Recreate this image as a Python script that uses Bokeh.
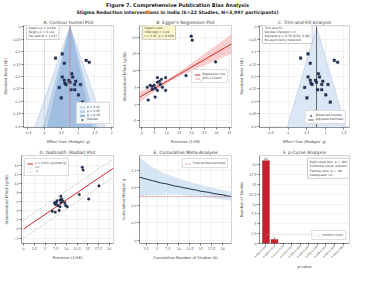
import math
from bokeh.plotting import figure
from bokeh.layouts import column, row
from bokeh.models import (Range1d, FixedTicker, Label, Legend, LegendItem, ColumnDataSource,
                          Span, FactorRange)
from bokeh.core.properties import value
from bokeh.embed import file_html
from bokeh.resources import INLINE

FONT = "DejaVu Sans"

main_title = "Figure 7. Comprehensive Publication Bias Analysis"
sub_title = "Stigma Reduction Interventions in India (k=22 Studies, N=3,997 participants)"

panel_titles = ["A. Contour Funnel Plot", "B. Egger's Regression Plot", "C. Trim-and-Fill Analysis",
                "D. Galbraith (Radial) Plot", "E. Cumulative Meta-Analysis", "F. p-Curve Analysis"]

# Panels A & C: study effects and standard errors
funnel_g = [0.53, 0.33, 0.59, 1.24, 1.33, 0.53, 0.73, 0.84, 0.81, 0.64, 0.44,
            0.90, 1.07, 0.79, 0.90, 1.01, 0.50, 1.13, 0.61, 0.76, 0.59, 0.93]
funnel_se = [0.109, 0.126, 0.147, 0.135, 0.143, 0.202, 0.215, 0.202, 0.189, 0.232, 0.244,
             0.232, 0.232, 0.253, 0.253, 0.274, 0.286, 0.303, 0.227, 0.223, 0.215, 0.219]
pooled_g = 0.76
se_ticks = [0.0, 0.05, 0.10, 0.15, 0.20, 0.25, 0.30, 0.35, 0.40]
g_ticks = [-0.5, 0.0, 0.5, 1.0, 1.5, 2.0]
contour_z = [2.58, 1.96, 1.645]
contour_labels = ["p < 0.01", "p < 0.05", "p < 0.10"]
contour_colors = ["#dce8f4", "#bcd3ea", "#9dbde0"]

# Panel B: Egger regression
egger_precision = [19.8, 20.2, 29.6, 17.7, 23.9, 6.2, 9.5, 6.2, 3.3, 2.1, 4.9,
                   7.4, 5.3, 8.2, 6.2, 9.5, 5.3, 2.5, 4.1, 7.0, 4.1, 7.8]
egger_z = [20.3, 19.1, 12.6, 8.5, 7.1, 7.9, 7.9, 6.5, 5.6, 5.0, 5.6,
           5.9, 4.7, 5.0, 4.1, 4.1, 2.1, 1.2, 5.3, 6.8, 4.4, 7.4]
egger_intercept = 2.5
egger_slope = 0.43
band_x = [-1, 0, 5, 10, 15, 20, 25, 30, 36]
band_half = [1.6, 1.5, 0.9, 0.55, 0.7, 1.2, 1.7, 2.2, 2.9]

# Panel D: Galbraith
galb_precision = [13.7, 13.9, 17.6, 13.0, 15.2, 7.4, 6.7, 8.3, 8.7, 8.5, 7.6,
                  7.2, 8.7, 9.8, 8.0, 7.4, 9.1, 9.6, 7.8, 8.5, 8.9, 10.2]
galb_z = [13.6, 13.0, 9.5, 7.6, 6.6, 3.7, 3.9, 4.1, 7.2, 6.4, 5.8,
          5.8, 5.8, 5.2, 5.2, 5.4, 6.2, 5.8, 6.2, 4.9, 6.6, 4.9]
galb_slope = 0.64
galb_bound = 2.0

# Panel E: cumulative meta-analysis
cum_k = list(range(1, 23))
cum_g = [1.08, 1.06, 1.04, 1.02, 1.00, 0.98, 0.97, 0.95, 0.93, 0.92, 0.90,
         0.89, 0.87, 0.86, 0.84, 0.83, 0.82, 0.80, 0.79, 0.78, 0.76, 0.75]
cum_upper = [1.43, 1.36, 1.30, 1.25, 1.21, 1.17, 1.14, 1.11, 1.08, 1.06, 1.03,
             1.01, 0.99, 0.97, 0.95, 0.93, 0.91, 0.89, 0.88, 0.86, 0.85, 0.83]
cum_lower = [0.76, 0.76, 0.77, 0.77, 0.77, 0.77, 0.78, 0.78, 0.78, 0.78, 0.77,
             0.77, 0.76, 0.76, 0.75, 0.74, 0.73, 0.72, 0.71, 0.70, 0.69, 0.68]
final_g = 0.75

# Panel F: p-curve
p_bins = ["0.000-0.005", "0.005-0.010", "0.010-0.015", "0.015-0.020", "0.020-0.025",
          "0.025-0.030", "0.030-0.035", "0.035-0.040", "0.040-0.045", "0.045-0.050"]
p_counts = [21, 1, 0, 0, 0, 0, 0, 0, 0, 0]
null_expected = 2.2

NAVY = "#1f3566"
RED = "#d62728"


def style(p):
    p.title.text_font = FONT
    p.title.text_font_size = "4.5px"
    p.title.text_font_style = "normal"
    p.title.align = "center"
    p.title.standoff = 2
    p.title.offset = 0
    for ax in p.axis:
        ax.axis_label_text_font = FONT
        ax.axis_label_text_font_size = "3.8px"
        ax.axis_label_text_font_style = "normal"
        ax.major_label_text_font = FONT
        ax.major_label_text_font_size = "3.3px"
        ax.major_tick_out = 2
        ax.major_tick_in = 0
        ax.minor_tick_out = 0
        ax.minor_tick_in = 0
        ax.major_tick_line_width = 0.5
        ax.axis_line_width = 0.5
        ax.axis_line_color = "#555555"
        ax.major_label_standoff = 1
        ax.axis_label_standoff = 2
    p.grid.grid_line_color = "#e4e4e4"
    p.grid.grid_line_width = 0.5
    p.outline_line_color = "#aaaaaa"
    p.outline_line_width = 0.5
    p.background_fill_color = "white"


def mkfig(title, w, h, xr, yr, xl, yl, **kw):
    p = figure(width=w, height=h, x_range=xr, y_range=yr, title=title,
               output_backend="svg", toolbar_location=None,
               min_border_left=4, min_border_right=5, min_border_top=2, min_border_bottom=2, **kw)
    p.xaxis.axis_label = xl
    p.yaxis.axis_label = yl
    style(p)
    return p


def legend(p, items, loc):
    lg = Legend(items=items, location=loc)
    lg.label_text_font = FONT
    lg.label_text_font_size = "3px"
    lg.glyph_width = 6
    lg.glyph_height = 3
    lg.label_height = 3
    lg.label_standoff = 2
    lg.spacing = 0
    lg.padding = 2
    lg.margin = 3
    lg.border_line_color = "#bbbbbb"
    lg.border_line_width = 0.5
    lg.background_fill_alpha = 0.9
    p.add_layout(lg)


def note(p, text, x, y, fill="white", y_units="screen"):
    lab = Label(x=x, y=y, x_units="screen", y_units=y_units, text=text,
                text_font=FONT, text_font_size="3px", text_align="left", text_baseline="top",
                background_fill_color=fill, background_fill_alpha=0.95,
                border_line_color="#999999", border_line_width=0.5, padding=2)
    p.add_layout(lab)


W = 118
H1 = 130
H2 = 126
SE_MAX = 0.405

# ---------- Title ----------
t = figure(width=354, height=16, x_range=Range1d(0, 1), y_range=Range1d(0, 1),
           output_backend="svg", toolbar_location=None, min_border=0)
t.axis.visible = False
t.grid.visible = False
t.outline_line_color = None
t.text(x=[0.5], y=[0.72], text=[main_title], text_align="center", text_baseline="middle",
       text_font=value(FONT), text_font_size=value("5px"), text_font_style="bold", text_color="#222222")
t.text(x=[0.5], y=[0.25], text=[sub_title], text_align="center", text_baseline="middle",
       text_font=value(FONT), text_font_size=value("4.6px"), text_font_style="bold", text_color="#222222")

# ---------- A ----------
a = mkfig(panel_titles[0], W, H1, Range1d(-0.62, 2.05), Range1d(SE_MAX, -0.005),
          "Effect Size (Hedges' g)", "Standard Error (SE)")
items = []
for z, lab, col in zip(contour_z, contour_labels, contour_colors):
    r = a.patch([pooled_g, pooled_g - z * SE_MAX, pooled_g + z * SE_MAX], [0, SE_MAX, SE_MAX],
                fill_color=col, line_color="#8fb0d6", line_width=0.4, fill_alpha=0.95)
    items.append(LegendItem(label=lab, renderers=[r]))
a.add_layout(Span(location=pooled_g, dimension="height", line_color="#e07070",
                  line_dash="2 1", line_width=0.8))
a.add_layout(Span(location=0, dimension="height", line_color="#999999",
                  line_dash="1 1", line_width=0.5))
rs = a.scatter(funnel_g, funnel_se, marker="square", size=2.6, fill_color=NAVY,
               line_color="#111111", line_width=0.3)
items.append(LegendItem(label="Studies", renderers=[rs]))
a.xaxis.ticker = FixedTicker(ticks=g_ticks)
a.yaxis.ticker = FixedTicker(ticks=se_ticks)
a.yaxis.formatter.use_scientific = False
legend(a, items, "bottom_right")
note(a, "Egger's p = 0.009\nBegg's p = 0.142\nFail-safe N = 1,247", 3, H1 - 26)

# ---------- B ----------
b = mkfig(panel_titles[1], W, H1, Range1d(-1, 36), Range1d(-7, 23.5),
          "Precision (1/SE)", "Standardized Effect (g/SE)")
bx = band_x
fit_y = [egger_intercept + egger_slope * x for x in bx]
band = b.varea(x=bx, y1=[f - h for f, h in zip(fit_y, band_half)],
               y2=[f + h for f, h in zip(fit_y, band_half)], fill_color="#f2a5a5", fill_alpha=0.55)
line = b.line(bx, fit_y, line_color=RED, line_width=1)
b.scatter(egger_precision, egger_z, size=2.8, fill_color=NAVY, line_color="#111111", line_width=0.3)
b.xaxis.ticker = FixedTicker(ticks=[0, 5, 10, 15, 20, 25, 30, 35])
b.yaxis.ticker = FixedTicker(ticks=[-5, 0, 5, 10, 15, 20])
legend(b, [LegendItem(label="Regression line", renderers=[line]),
           LegendItem(label="95% CI band", renderers=[band])], "center_right")
note(b, "Egger's test:\nIntercept = 2.49\nt = 2.87, p = 0.009", 3, H1 - 26, fill="#fdf6c8")

# ---------- C ----------
c = mkfig(panel_titles[2], W, H1, Range1d(-0.78, 1.65), Range1d(SE_MAX, -0.005),
          "Effect Size (Hedges' g)", "Standard Error (SE)")
tri = c.patch([pooled_g, pooled_g - 1.96 * SE_MAX, pooled_g + 1.96 * SE_MAX], [0, SE_MAX, SE_MAX],
              fill_color="#dbe7f4", line_color="#9bb8d8", line_width=0.4)
adj = c.line([pooled_g, pooled_g], [0, SE_MAX], line_color="#555555", line_width=0.9)
obs = c.scatter(funnel_g, funnel_se, marker="square", size=2.6, fill_color=NAVY,
                line_color="#111111", line_width=0.3)
c.xaxis.ticker = FixedTicker(ticks=[-0.5, 0.0, 0.5, 1.0, 1.5])
c.yaxis.ticker = FixedTicker(ticks=se_ticks)
legend(c, [LegendItem(label="Observed studies", renderers=[obs]),
           LegendItem(label="Adjusted estimate", renderers=[adj])], "bottom_right")
note(c, "Trim-and-fill:\nStudies imputed = 0\nAdjusted g = 0.76 [0.62, 0.90]\nNo asymmetry detected", 3, H1 - 26)

# ---------- D ----------
d = mkfig(panel_titles[3], W, H2, Range1d(-0.5, 21), Range1d(-3.2, 16.2),
          "Precision (1/SE)", "Standardized Effect (g/SE)")
dx = [0, 21]
rl = d.line(dx, [galb_slope * x for x in dx], line_color=RED, line_width=1)
up = d.line(dx, [galb_slope * x + galb_bound for x in dx], line_color="#999999",
            line_dash="1 1", line_width=0.6)
lo = d.line(dx, [galb_slope * x - galb_bound for x in dx], line_color="#999999",
            line_dash="1 1", line_width=0.6)
d.scatter(galb_precision, galb_z, size=2.6, fill_color=NAVY, line_color="#111111", line_width=0.3)
d.xaxis.ticker = FixedTicker(ticks=[0, 2.5, 5, 7.5, 10, 12.5, 15, 17.5, 20])
d.yaxis.ticker = FixedTicker(ticks=[-2, 0, 2, 4, 6, 8, 10, 12, 14])
legend(d, [LegendItem(label="y = 0.64x (pooled g)", renderers=[rl]),
           LegendItem(label="+2", renderers=[up]),
           LegendItem(label="-2", renderers=[lo])], "top_left")

# ---------- E ----------
e = mkfig(panel_titles[4], W, H2, Range1d(1, 22), Range1d(-0.05, 1.45),
          "Cumulative Number of Studies (k)", "Cumulative Hedges' g")
e.varea(x=cum_k, y1=cum_lower, y2=cum_upper, fill_color="#c6dbef", fill_alpha=0.7)
e.line(cum_k, cum_g, line_color="#1f2f4f", line_width=1)
fl = e.line([1, 22], [final_g, final_g], line_color="#e06060", line_dash="2 1", line_width=0.7)
e.xaxis.ticker = FixedTicker(ticks=[2.5, 5, 7.5, 10, 12.5, 15, 17.5, 20])
e.yaxis.ticker = FixedTicker(ticks=[0.0, 0.3, 0.6, 0.9, 1.2])
legend(e, [LegendItem(label="Final pooled estimate", renderers=[fl])], "top_right")

# ---------- F ----------
f = mkfig(panel_titles[5], W, H2, FactorRange(*p_bins), Range1d(0, 22.3),
          "p-value", "Number of Studies")
src = ColumnDataSource(dict(bins=p_bins, counts=p_counts,
                            labels=[str(v) if v > 0 else "" for v in p_counts]))
f.vbar(x="bins", top="counts", width=0.8, source=src, fill_color="#c8202c",
       line_color="#7a0f16", line_width=0.4)
f.text(x="bins", y="counts", text="labels", source=src, text_align="center", text_baseline="bottom",
       text_font=value(FONT), text_font_size=value("3px"), y_offset=-0.5)
nl = f.line(p_bins, [null_expected] * len(p_bins), line_color="#bbbbbb", line_dash="2 1",
            line_width=0.5)
f.yaxis.ticker = FixedTicker(ticks=[0, 2.5, 5, 7.5, 10, 12.5, 15, 17.5, 20])
f.xaxis.major_label_orientation = math.pi / 4
f.xaxis.major_label_text_font_size = "2.6px"
f.xgrid.grid_line_color = None
f.x_range.range_padding = 0.05
legend(f, [LegendItem(label="Uniform (null)", renderers=[nl])], "bottom_right")
note(f, "Right-skew test: p < .001\nEvidential value: present\nFlatness test: p > .99\nInadequate: no",
     48, 21.6, y_units="data")

layout = column(t, row(a, b, c, spacing=0), row(d, e, f, spacing=0), spacing=0)
open("out.html", "w").write(file_html(layout, INLINE))
